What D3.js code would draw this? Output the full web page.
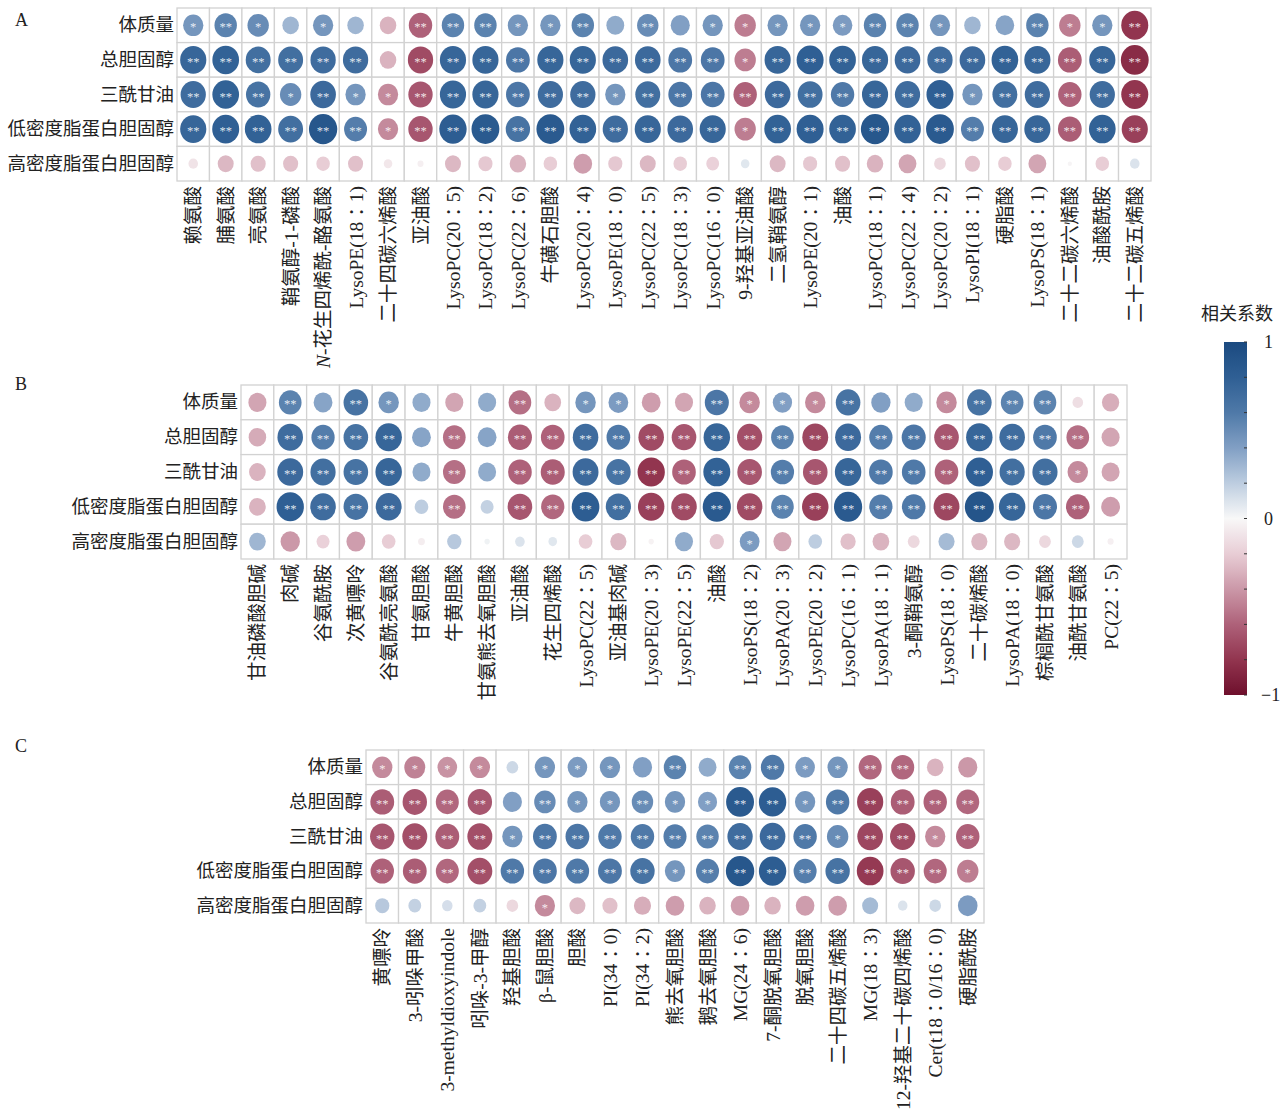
<!DOCTYPE html>
<html>
<head>
<meta charset="utf-8">
<script src="https://cdn.jsdelivr.net/npm/d3@7"></script>
<style>
  html, body { margin: 0; padding: 0; background: #fff; }
  svg { display: block; }
  text { font-family: "Liberation Serif", "Noto Sans CJK SC", serif; fill: #222; }
</style>
</head>
<body>
<svg id="chart" width="1285" height="1114"></svg>
<script>
// Clinical indices (rows shared by all three panels)
const rowLabels = ["体质量", "总胆固醇", "三酰甘油", "低密度脂蛋白胆固醇", "高密度脂蛋白胆固醇"];

// Panel A metabolites
const colsA = ["赖氨酸", "脯氨酸", "亮氨酸", "鞘氨醇-1-磷酸", "N-花生四烯酰-酪氨酸", "LysoPE(18：1)",
  "二十四碳六烯酸", "亚油酸", "LysoPC(20：5)", "LysoPC(18：2)", "LysoPC(22：6)", "牛磺石胆酸",
  "LysoPC(20：4)", "LysoPE(18：0)", "LysoPC(22：5)", "LysoPC(18：3)", "LysoPC(16：0)", "9-羟基亚油酸",
  "二氢鞘氨醇", "LysoPE(20：1)", "油酸", "LysoPC(18：1)", "LysoPC(22：4)", "LysoPC(20：2)",
  "LysoPI(18：1)", "硬脂酸", "LysoPS(18：1)", "二十二碳六烯酸", "油酸酰胺", "二十二碳五烯酸"];
const valuesA = [
  [0.45, 0.55, 0.50, 0.30, 0.45, 0.30, -0.30, -0.60, 0.55, 0.55, 0.45, 0.45, 0.55, 0.35, 0.50, 0.40, 0.45, -0.50, 0.45, 0.45, 0.42, 0.55, 0.55, 0.45, 0.30, 0.38, 0.55, -0.50, 0.45, -0.80],
  [0.75, 0.78, 0.68, 0.68, 0.70, 0.70, -0.30, -0.70, 0.75, 0.75, 0.62, 0.75, 0.75, 0.72, 0.72, 0.62, 0.62, -0.50, 0.75, 0.80, 0.78, 0.75, 0.72, 0.70, 0.72, 0.78, 0.75, -0.62, 0.75, -0.85],
  [0.70, 0.78, 0.65, 0.50, 0.72, 0.45, -0.45, -0.65, 0.75, 0.75, 0.62, 0.70, 0.70, 0.45, 0.68, 0.62, 0.62, -0.60, 0.72, 0.68, 0.60, 0.75, 0.70, 0.80, 0.45, 0.68, 0.70, -0.60, 0.70, -0.80],
  [0.75, 0.80, 0.78, 0.68, 0.88, 0.58, -0.45, -0.65, 0.82, 0.85, 0.65, 0.85, 0.78, 0.70, 0.75, 0.72, 0.75, -0.50, 0.78, 0.80, 0.78, 0.88, 0.78, 0.85, 0.58, 0.75, 0.75, -0.62, 0.78, -0.75],
  [-0.10, -0.28, -0.25, -0.25, -0.20, -0.25, -0.08, -0.04, -0.28, -0.22, -0.30, -0.20, -0.38, -0.22, -0.28, -0.20, -0.18, 0.08, -0.28, -0.22, -0.25, -0.30, -0.35, -0.15, -0.25, -0.20, -0.35, -0.02, -0.20, 0.10]
];
// significance level: 0 none, 1 = *, 2 = **
const sigA = [
  [1, 2, 1, 0, 1, 0, 0, 2, 2, 2, 1, 1, 2, 0, 2, 0, 1, 1, 1, 1, 1, 2, 2, 1, 0, 0, 2, 1, 1, 2],
  [2, 2, 2, 2, 2, 2, 0, 2, 2, 2, 2, 2, 2, 2, 2, 2, 2, 1, 2, 2, 2, 2, 2, 2, 2, 2, 2, 2, 2, 2],
  [2, 2, 2, 1, 2, 1, 1, 2, 2, 2, 2, 2, 2, 1, 2, 2, 2, 2, 2, 2, 2, 2, 2, 2, 1, 2, 2, 2, 2, 2],
  [2, 2, 2, 2, 2, 2, 1, 2, 2, 2, 2, 2, 2, 2, 2, 2, 2, 1, 2, 2, 2, 2, 2, 2, 2, 2, 2, 2, 2, 2],
  [0, 0, 0, 0, 0, 0, 0, 0, 0, 0, 0, 0, 0, 0, 0, 0, 0, 0, 0, 0, 0, 0, 0, 0, 0, 0, 0, 0, 0, 0]
];

// Panel B metabolites
const colsB = ["甘油磷酸胆碱", "肉碱", "谷氨酰胺", "次黄嘌呤", "谷氨酰亮氨酸", "甘氨胆酸", "牛黄胆酸",
  "甘氨熊去氧胆酸", "亚油酸", "花生四烯酸", "LysoPC(22：5)", "亚油基肉碱", "LysoPE(20：3)",
  "LysoPE(22：5)", "油酸", "LysoPS(18：2)", "LysoPA(20：3)", "LysoPE(20：2)", "LysoPC(16：1)",
  "LysoPA(18：1)", "3-酮鞘氨醇", "LysoPS(18：0)", "二十碳烯酸", "LysoPA(18：0)", "棕榈酰甘氨酸",
  "油酰甘氨酸", "PC(22：5)"];
const valuesB = [
  [-0.35, 0.55, 0.38, 0.65, 0.45, 0.35, -0.35, 0.35, -0.55, -0.30, 0.45, 0.42, -0.38, -0.35, 0.62, -0.45, 0.40, -0.45, 0.65, 0.40, 0.35, -0.45, 0.65, 0.55, 0.55, -0.12, -0.32],
  [-0.33, 0.70, 0.58, 0.65, 0.75, 0.38, -0.55, 0.38, -0.62, -0.60, 0.70, 0.60, -0.70, -0.65, 0.75, -0.68, 0.55, -0.72, 0.72, 0.58, 0.62, -0.65, 0.75, 0.70, 0.60, -0.55, -0.35],
  [-0.30, 0.72, 0.68, 0.65, 0.75, 0.35, -0.55, 0.35, -0.60, -0.62, 0.72, 0.65, -0.80, -0.60, 0.78, -0.65, 0.58, -0.65, 0.75, 0.60, 0.60, -0.60, 0.80, 0.68, 0.68, -0.45, -0.35],
  [-0.30, 0.80, 0.70, 0.65, 0.72, 0.20, -0.55, 0.18, -0.65, -0.58, 0.82, 0.68, -0.75, -0.70, 0.85, -0.70, 0.55, -0.75, 0.85, 0.58, 0.60, -0.72, 0.90, 0.75, 0.62, -0.60, -0.38],
  [0.30, -0.40, -0.18, -0.38, -0.20, -0.05, 0.22, 0.03, 0.10, 0.08, -0.20, -0.28, -0.03, 0.35, -0.22, 0.42, -0.35, 0.20, -0.25, -0.30, -0.15, 0.28, -0.28, -0.28, -0.15, 0.15, -0.04]
];
const sigB = [
  [0, 2, 0, 2, 1, 0, 0, 0, 2, 0, 1, 1, 0, 0, 2, 1, 1, 1, 2, 0, 0, 1, 2, 2, 2, 0, 0],
  [0, 2, 2, 2, 2, 0, 2, 0, 2, 2, 2, 2, 2, 2, 2, 2, 2, 2, 2, 2, 2, 2, 2, 2, 2, 2, 0],
  [0, 2, 2, 2, 2, 0, 2, 0, 2, 2, 2, 2, 2, 2, 2, 2, 2, 2, 2, 2, 2, 2, 2, 2, 2, 1, 0],
  [0, 2, 2, 2, 2, 0, 2, 0, 2, 2, 2, 2, 2, 2, 2, 2, 2, 2, 2, 2, 2, 2, 2, 2, 2, 2, 0],
  [0, 0, 0, 0, 0, 0, 0, 0, 0, 0, 0, 0, 0, 0, 0, 1, 0, 0, 0, 0, 0, 0, 0, 0, 0, 0, 0]
];

// Panel C metabolites
const colsC = ["黄嘌呤", "3-吲哚甲酸", "3-methyldioxyindole", "吲哚-3-甲醇", "羟基胆酸", "β-鼠胆酸",
  "胆酸", "PI(34：0)", "PI(34：2)", "熊去氧胆酸", "鹅去氧胆酸", "MG(24：6)", "7-酮脱氧胆酸",
  "脱氧胆酸", "二十四碳五烯酸", "MG(18：3)", "12-羟基二十碳四烯酸", "Cer(t18：0/16：0)", "硬脂酰胺"];
const valuesC = [
  [-0.45, -0.48, -0.42, -0.45, 0.15, 0.45, 0.42, 0.45, 0.40, 0.55, 0.35, 0.55, 0.60, 0.42, 0.45, -0.58, -0.58, -0.30, -0.40],
  [-0.62, -0.65, -0.58, -0.65, 0.40, 0.50, 0.45, 0.45, 0.50, 0.45, 0.40, 0.85, 0.82, 0.45, 0.60, -0.75, -0.62, -0.60, -0.58],
  [-0.65, -0.68, -0.62, -0.68, 0.45, 0.62, 0.62, 0.60, 0.60, 0.58, 0.55, 0.70, 0.72, 0.60, 0.50, -0.72, -0.70, -0.45, -0.60],
  [-0.60, -0.62, -0.58, -0.68, 0.60, 0.62, 0.60, 0.62, 0.65, 0.45, 0.58, 0.88, 0.82, 0.58, 0.65, -0.78, -0.65, -0.58, -0.50],
  [0.22, 0.18, 0.12, 0.18, -0.15, -0.45, -0.28, -0.25, -0.32, -0.38, -0.30, -0.38, -0.30, -0.38, -0.38, 0.28, 0.10, 0.15, 0.42]
];
const sigC = [
  [1, 1, 1, 1, 0, 1, 1, 1, 0, 2, 0, 2, 2, 1, 1, 2, 2, 0, 0],
  [2, 2, 2, 2, 0, 2, 1, 1, 2, 1, 1, 2, 2, 1, 2, 2, 2, 2, 2],
  [2, 2, 2, 2, 1, 2, 2, 2, 2, 2, 2, 2, 2, 2, 1, 2, 2, 1, 2],
  [2, 2, 2, 2, 2, 2, 2, 2, 2, 1, 2, 2, 2, 2, 2, 2, 2, 2, 1],
  [0, 0, 0, 0, 0, 1, 0, 0, 0, 0, 0, 0, 0, 0, 0, 0, 0, 0, 0]
];

// Colour bar labels
const legendTicks = [1, 0, -1];

// Diverging red-white-blue palette for correlation coefficients
const color = d3.scaleLinear()
  .domain([-1, -0.8, -0.6, -0.4, -0.2, 0, 0.2, 0.4, 0.6, 0.8, 1])
  .range(["#6E0F2C", "#92354F", "#AE6179", "#CB98A8", "#E8CDD5", "#F8F8F8",
          "#BDCDE0", "#819FC4", "#4F79A8", "#2F5F94", "#1B4A80"])
  .interpolate(d3.interpolateRgb)
  .clamp(true);

// Glyph size: area proportional to |r|
const size = d3.scaleSqrt().domain([0, 1]).range([0, 0.96]);

const svg = d3.select("#chart");

// Write a label into a text node; italic leading "N", and a centred full-width colon
function writeLabel(t, d) {
  let rest = d;
  if (rest.startsWith("N-")) {
    t.append("tspan").style("font-style", "italic").text("N");
    rest = rest.slice(1);
  }
  const parts = rest.split("：");
  parts.forEach((p, i) => {
    if (i > 0) {
      t.append("tspan").attr("dx", 5).text("：");
      t.append("tspan").attr("dx", -5).text(p);
    } else if (p) {
      t.append("tspan").text(p);
    }
  });
}

function drawPanel(cfg) {
  const g = svg.append("g");
  const x = d3.scaleBand().domain(cfg.cols).range([cfg.x0, cfg.x1]);
  const y = d3.scaleBand().domain(rowLabels).range([cfg.y0, cfg.y1]);
  const bw = x.bandwidth(), bh = y.bandwidth();

  const cells = [];
  rowLabels.forEach((r, i) => cfg.cols.forEach((c, j) => {
    cells.push({ row: r, col: c, v: cfg.vals[i][j], s: cfg.sig[i][j] });
  }));

  // cell grid
  g.selectAll("rect.cell").data(cells).join("rect")
    .attr("class", "cell")
    .attr("x", d => x(d.col)).attr("y", d => y(d.row))
    .attr("width", bw).attr("height", bh)
    .attr("fill", "#fff").attr("stroke", "#d2d2d2").attr("stroke-width", 1.3);

  // correlation glyphs
  g.selectAll("ellipse").data(cells).join("ellipse")
    .attr("cx", d => x(d.col) + bw / 2)
    .attr("cy", d => y(d.row) + bh / 2)
    .attr("rx", d => size(Math.abs(d.v)) * (bw / 2 - 0.5))
    .attr("ry", d => size(Math.abs(d.v)) * (bh / 2 - 0.5))
    .attr("fill", d => color(d.v));

  // significance marks
  g.selectAll("text.sig").data(cells.filter(d => d.s > 0)).join("text")
    .attr("class", "sig")
    .attr("x", d => x(d.col) + bw / 2)
    .attr("y", d => y(d.row) + bh / 2 + 6)
    .attr("text-anchor", "middle")
    .style("font-size", "12.5px")
    .style("fill", "#fff")
    .style("fill-opacity", 0.85)
    .text(d => d.s === 2 ? "**" : "*");

  // row labels
  g.selectAll("text.row").data(rowLabels).join("text")
    .attr("class", "row")
    .attr("x", cfg.x0 - 3)
    .attr("y", d => y(d) + bh / 2)
    .attr("text-anchor", "end")
    .attr("dominant-baseline", "central")
    .style("font-size", "18.5px")
    .text(d => d);

  // column labels, rotated to read bottom-up
  g.selectAll("text.col").data(cfg.cols).join("text")
    .attr("class", "col")
    .attr("transform", d => `translate(${x(d) + bw / 2},${cfg.y1 + 5}) rotate(-90)`)
    .attr("text-anchor", "end")
    .attr("dominant-baseline", "central")
    .style("font-size", "19.5px")
    .each(function (d) { writeLabel(d3.select(this), d); });

  // panel letter
  svg.append("text")
    .attr("x", 15).attr("y", cfg.letterY)
    .style("font-size", "18px")
    .text(cfg.letter);
}

drawPanel({ letter: "A", letterY: 26, cols: colsA, vals: valuesA, sig: sigA, x0: 177, x1: 1151, y0: 8, y1: 181 });
drawPanel({ letter: "B", letterY: 390, cols: colsB, vals: valuesB, sig: sigB, x0: 241, x1: 1127, y0: 385, y1: 559 });
drawPanel({ letter: "C", letterY: 752, cols: colsC, vals: valuesC, sig: sigC, x0: 366, x1: 984, y0: 750, y1: 923 });

// colour legend
const lg = svg.append("g");
const barX = 1224, barW = 23, barTop = 342, barBot = 695;
const ly = d3.scaleLinear().domain([1, -1]).range([barTop, barBot]);

const grad = svg.append("defs").append("linearGradient")
  .attr("id", "corrGrad").attr("x1", 0).attr("y1", 0).attr("x2", 0).attr("y2", 1);
d3.range(0, 41).forEach(i => {
  const v = 1 - i / 20;
  grad.append("stop").attr("offset", `${(i / 40) * 100}%`).attr("stop-color", color(v));
});
lg.append("rect")
  .attr("x", barX).attr("y", barTop).attr("width", barW).attr("height", barBot - barTop)
  .attr("fill", "url(#corrGrad)");

// minor ticks every 0.2 on the bar's right edge
lg.selectAll("line.tick").data(d3.range(-1, 1.0001, 0.2)).join("line")
  .attr("x1", barX + barW - 3).attr("x2", barX + barW)
  .attr("y1", d => ly(d)).attr("y2", d => ly(d))
  .attr("stroke", "#333").attr("stroke-width", 1);

lg.selectAll("text.lab").data(legendTicks).join("text")
  .attr("x", d => barX + barW + (d < 0 ? 14 : 17))
  .attr("y", d => ly(d))
  .attr("dominant-baseline", "central")
  .style("font-size", "18px")
  .text(d => d < 0 ? "\u2212" + Math.abs(d) : String(d));

lg.append("text")
  .attr("x", 1237).attr("y", 314)
  .attr("text-anchor", "middle")
  .attr("dominant-baseline", "central")
  .style("font-size", "18px")
  .text("相关系数");
</script>
</body>
</html>
